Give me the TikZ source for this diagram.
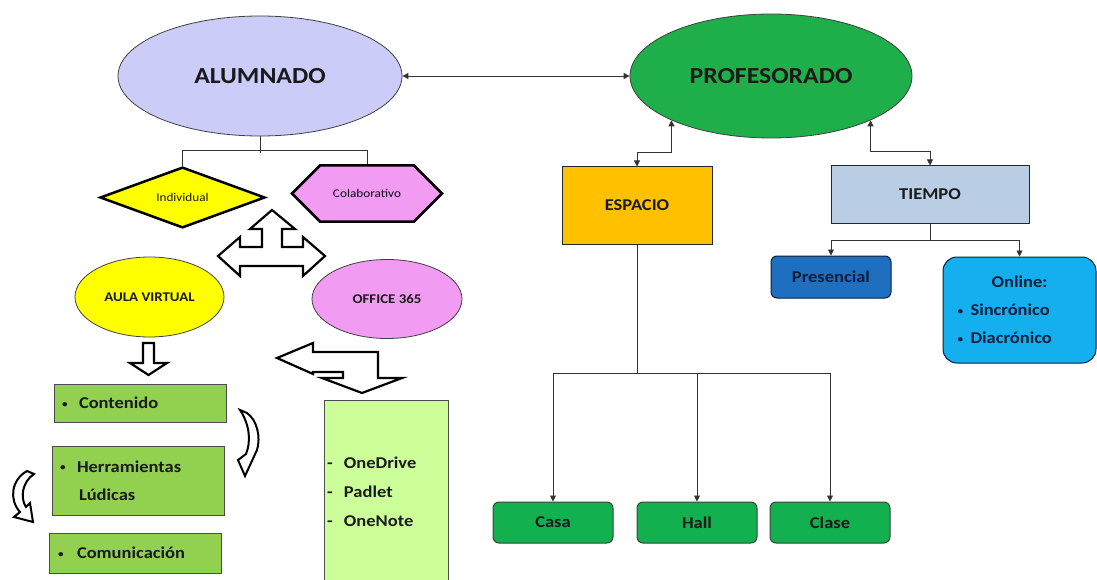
\documentclass[tikz,border=0pt]{standalone}
\usepackage{fontspec}
\setmainfont{Carlito}[FakeStretch=1.12]
\usetikzlibrary{arrows.meta,shapes.geometric,shapes.misc,calc}
\definecolor{alumc}{HTML}{CCCCF9}
\definecolor{profc}{HTML}{1EAE4A}
\definecolor{yelc}{HTML}{FFFF00}
\definecolor{violc}{HTML}{F29BF2}
\definecolor{espc}{HTML}{FFC000}
\definecolor{tiemc}{HTML}{B9CDE5}
\definecolor{presc}{HTML}{1F6FC0}
\definecolor{onlc}{HTML}{14AFEF}
\definecolor{lgreen}{HTML}{92D050}
\definecolor{pgreen}{HTML}{CCFF99}
\definecolor{dgreen}{HTML}{12B04E}
\definecolor{navy}{HTML}{0C1E3C}
\definecolor{txt}{HTML}{1A1A1A}
\newcommand{\smbul}{\raisebox{1.5pt}{\fontsize{10}{10}\selectfont\textbullet}}
\tikzset{
  conn/.style={draw=black!80, line width=0.9pt},
  sarrow/.style={-{Triangle[length=6pt,width=6pt]}},
  darrow/.style={{Triangle[length=6pt,width=6pt]}-{Triangle[length=6pt,width=6pt]}},
  oval/.style={ellipse, draw=black!75, line width=0.8pt, inner sep=0pt, text=txt},
  rectbox/.style={rectangle, draw=black!85, line width=1pt, inner sep=0pt, text=txt},
  rbox/.style={rectangle, rounded corners=6pt, draw=black!80, line width=1pt, inner sep=0pt},
  lbox/.style={rectangle, draw=black!70, line width=1pt, fill=lgreen, align=left, text=txt,
     font=\fontsize{16.5}{28}\selectfont\bfseries},
  blockarrow/.style={draw=black, line width=2.2pt, fill=white},
  bigtxt/.style={font=\fontsize{23}{26}\selectfont\bfseries},
  midtxt/.style={font=\fontsize{16.5}{28}\selectfont\bfseries},
  smalltxt/.style={font=\fontsize{13.3}{16}\selectfont\bfseries},
  tinytxt/.style={font=\fontsize{11.8}{14}\selectfont}
}
\begin{document}
\begin{tikzpicture}[x=1pt,y=-1pt]
\useasboundingbox (0,0) rectangle (1097,580);
\clip (0,0) rectangle (1097,580);

% main ellipses
\node[oval, fill=alumc, minimum width=284pt, minimum height=120pt, bigtxt] (alum) at (260,76) {ALUMNADO};
\node[oval, fill=profc, minimum width=282pt, minimum height=124pt, bigtxt] (prof) at (771,76) {PROFESORADO};
\draw[conn, darrow] (alum.east) -- (prof.west);

% alumnado branch
\node[diamond, draw=black, line width=2.5pt, fill=yelc, minimum width=165pt, minimum height=59pt, inner sep=0pt, tinytxt, text=txt] (ind) at (182.5,197.5) {Individual};
\node[chamfered rectangle, chamfered rectangle xsep=28pt, chamfered rectangle ysep=24pt, draw=black, line width=2.5pt, fill=violc, minimum width=150pt, minimum height=51pt, inner sep=0pt, tinytxt, text=black!80!violet] (colab) at (367,193.5) {Colaborativo};
\draw[conn] (alum.south) -- ++(0,17);
\draw[conn] (ind.north) -- ++(0,-15) -| (colab.north);

\node[oval, fill=yelc, minimum width=149pt, minimum height=80pt, smalltxt] (aula) at (149.5,297) {AULA VIRTUAL};
\node[oval, fill=violc, minimum width=150pt, minimum height=79pt, smalltxt] (office) at (387,299) {OFFICE 365};

% three-way block arrow
\draw[blockarrow] (272,210) -- (295,229) -- (282,229) -- (282,247) -- (303,247) -- (303,237) -- (325,256)
  -- (303,276) -- (303,266) -- (240,266) -- (240,276) -- (218,256) -- (240,237) -- (240,247)
  -- (262,247) -- (262,229) -- (250,229) -- cycle;
% down arrow under aula virtual
\draw[blockarrow] (143,343) -- (154,343) -- (154,363) -- (167,363) -- (148.5,375) -- (130,363) -- (143,363) -- cycle;
% bent arrow near office 365
\draw[blockarrow] (277,358) -- (313,343) -- (313,352) -- (378,352) -- (378,378) -- (402,378) -- (362,393)
  -- (322,378) -- (343,378) -- (343,372) -- (313,372) -- (313,374) -- cycle;
% curved arrows
\draw[blockarrow, line width=2pt] (240,410) -- (247,413) .. controls (257,420) and (261,437) .. (257,450)
  -- (245,476) -- (238,460) -- (246,454) .. controls (251,442) and (250,425) .. (240,410) -- cycle;
\draw[blockarrow, line width=2pt] (27,471) -- (34,474) .. controls (22,482) and (20,498) .. (26,507)
  -- (30,503) -- (33,522) -- (14,517) -- (20,512) .. controls (9,500) and (11,480) .. (27,471) -- cycle;

% left boxes
\node[lbox, minimum width=172pt, minimum height=38pt, text width=156pt, inner xsep=8pt, inner ysep=0pt] (cont) at (140,403) {\makebox[17pt][l]{\smbul}Contenido};
\node[lbox, minimum width=172pt, minimum height=69pt, text width=156pt, inner xsep=8pt, inner ysep=0pt] (herr) at (138,480.5) {\makebox[17pt][l]{\smbul}Herramientas\\\hspace*{19pt}Lúdicas};
\node[lbox, minimum width=172pt, minimum height=40pt, text width=154pt, inner xsep=9pt, inner ysep=0pt] (comu) at (135,553) {\makebox[19pt][l]{\smbul}Comunicación};
\node[lbox, fill=pgreen, minimum width=124pt, minimum height=184pt, text width=118pt, inner xsep=3pt, inner ysep=0pt, font=\fontsize{16.5}{29}\selectfont\bfseries] (tools) at (386,492) {\makebox[17pt][l]{-}OneDrive\\\makebox[17pt][l]{-}Padlet\\\makebox[17pt][l]{-}OneNote};

% profesorado branch
\node[rectbox, fill=espc, minimum width=150pt, minimum height=77pt, midtxt] (esp) at (637,205.5) {ESPACIO};
\node[rectbox, fill=tiemc, minimum width=198pt, minimum height=57pt, midtxt] (tiem) at (930,194.5) {TIEMPO};
\draw[conn, darrow] (esp.north) -- ++(0,-14) -| (prof.-156);
\draw[conn, darrow] (tiem.north) -- ++(0,-14) -| (prof.-24);

\node[rbox, fill=presc, draw=navy, minimum width=120pt, minimum height=42pt, midtxt, text=navy] (pres) at (831,277) {Presencial};
\node[rbox, rounded corners=14pt, fill=onlc, draw=navy, minimum width=153pt, minimum height=106pt, midtxt, text=navy, align=center] (onl) at (1019.5,310)
  {Online:\\\makebox[124pt][l]{\makebox[13pt][l]{\smbul}Sincrónico}\\\makebox[124pt][l]{\makebox[13pt][l]{\smbul}Diacrónico}};
\draw[conn, sarrow] (tiem.south) -- ++(0,17) -| (pres.north);
\draw[conn, sarrow] (tiem.south) -- ++(0,17) -| (onl.north);

\node[rbox, fill=dgreen, draw=black!75, minimum width=120pt, minimum height=41pt, midtxt, text=txt] (casa) at (553,522.5) {Casa};
\node[rbox, fill=dgreen, draw=black!75, minimum width=120pt, minimum height=41pt, midtxt, text=txt] (hall) at (697,522.5) {Hall};
\node[rbox, fill=dgreen, draw=black!75, minimum width=120pt, minimum height=41pt, midtxt, text=txt] (clase) at (830,522.5) {Clase};
\draw[conn, sarrow] (esp.south) -- ++(0,129) -| (casa.north);
\draw[conn, sarrow] (esp.south) -- ++(0,129) -| (hall.north);
\draw[conn, sarrow] (esp.south) -- ++(0,129) -| (clase.north);
\end{tikzpicture}
\end{document}
